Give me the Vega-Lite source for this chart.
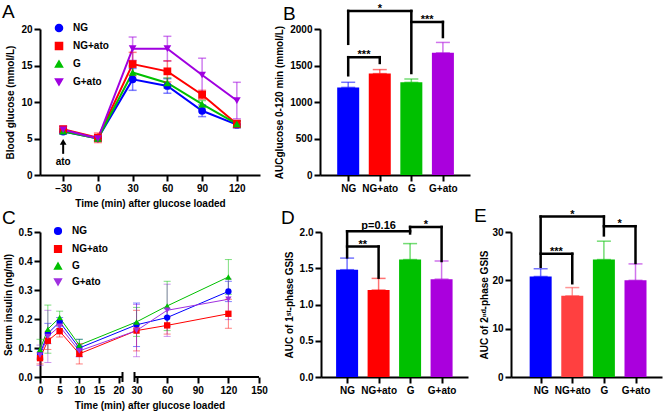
{
  "$schema": "https://vega.github.io/schema/vega-lite/v6.json",
  "background": "white",
  "padding": {"left": 2, "top": 2, "right": 1, "bottom": 2},
  "config": {
    "view": {"stroke": null},
    "font": "Liberation Sans",
    "axis": {"domainColor": "black", "domainWidth": 2, "tickColor": "black", "tickWidth": 2, "tickSize": 6,
      "labelFont": "Liberation Sans", "labelFontSize": 10, "labelFontWeight": "bold", "labelColor": "black",
      "titleFont": "Liberation Sans", "titleFontSize": 10, "titleFontWeight": "bold", "titleColor": "black",
      "grid": false, "labelPadding": 2, "titlePadding": 5, "labelOverlap": false, "labelFlush": false},
    "title": {"font": "Liberation Sans", "fontSize": 19, "fontWeight": "normal", "anchor": "start", "frame": "group", "color": "black", "offset": 4},
    "legend": {"labelFont": "Liberation Sans", "labelFontSize": 10, "labelFontWeight": "bold", "labelColor": "black", "symbolOpacity": 1, "labelOffset": 9}
  },
  "datasets": {
    "glu": [
      {"group": "NG", "t": -30, "mean": 5.95, "sd": 0.3},
      {"group": "NG", "t": 0, "mean": 5.03, "sd": 0.4},
      {"group": "NG", "t": 30, "mean": 13.1, "sd": 1.5},
      {"group": "NG", "t": 60, "mean": 12.2, "sd": 1.0},
      {"group": "NG", "t": 90, "mean": 8.8, "sd": 0.8},
      {"group": "NG", "t": 120, "mean": 6.9, "sd": 0.45},
      {"group": "NG+ato", "t": -30, "mean": 6.27, "sd": 0.4},
      {"group": "NG+ato", "t": 0, "mean": 5.1, "sd": 0.65},
      {"group": "NG+ato", "t": 30, "mean": 15.2, "sd": 1.6},
      {"group": "NG+ato", "t": 60, "mean": 14.2, "sd": 1.45},
      {"group": "NG+ato", "t": 90, "mean": 11.0, "sd": 0.6},
      {"group": "NG+ato", "t": 120, "mean": 7.0, "sd": 0.5},
      {"group": "G", "t": -30, "mean": 6.0, "sd": 0.35},
      {"group": "G", "t": 0, "mean": 5.0, "sd": 0.3},
      {"group": "G", "t": 30, "mean": 14.05, "sd": 0.9},
      {"group": "G", "t": 60, "mean": 12.6, "sd": 0.7},
      {"group": "G", "t": 90, "mean": 9.7, "sd": 0.5},
      {"group": "G", "t": 120, "mean": 7.0, "sd": 0.4},
      {"group": "G+ato", "t": -30, "mean": 6.2, "sd": 0.5},
      {"group": "G+ato", "t": 0, "mean": 5.0, "sd": 0.3},
      {"group": "G+ato", "t": 30, "mean": 17.3, "sd": 1.6},
      {"group": "G+ato", "t": 60, "mean": 17.3, "sd": 1.7},
      {"group": "G+ato", "t": 90, "mean": 13.7, "sd": 2.3},
      {"group": "G+ato", "t": 120, "mean": 10.2, "sd": 2.5}
    ],
    "arrowLine": [{"t": -30, "mean": 2.9, "mean2": 4.3}],
    "arrowHead": [{"t": -30, "mean": 4.55}],
    "arrowText": [{"t": -30, "mean": 1.8, "label": "ato"}],
    "ins": [
      {"group": "NG", "t": 0, "mean": 0.08, "sd": 0.015},
      {"group": "NG", "t": 2, "mean": 0.15, "sd": 0.035},
      {"group": "NG", "t": 5, "mean": 0.19, "sd": 0.015},
      {"group": "NG", "t": 10, "mean": 0.10, "sd": 0.03},
      {"group": "NG", "t": 30, "mean": 0.18, "sd": 0.075},
      {"group": "NG", "t": 60, "mean": 0.205, "sd": 0.03},
      {"group": "NG", "t": 120, "mean": 0.295, "sd": 0.035},
      {"group": "NG+ato", "t": 0, "mean": 0.065, "sd": 0.02},
      {"group": "NG+ato", "t": 2, "mean": 0.125, "sd": 0.03},
      {"group": "NG+ato", "t": 5, "mean": 0.158, "sd": 0.02},
      {"group": "NG+ato", "t": 10, "mean": 0.08, "sd": 0.035},
      {"group": "NG+ato", "t": 30, "mean": 0.16, "sd": 0.07},
      {"group": "NG+ato", "t": 60, "mean": 0.178, "sd": 0.03},
      {"group": "NG+ato", "t": 120, "mean": 0.218, "sd": 0.05},
      {"group": "G", "t": 0, "mean": 0.095, "sd": 0.035},
      {"group": "G", "t": 2, "mean": 0.165, "sd": 0.083},
      {"group": "G", "t": 5, "mean": 0.205, "sd": 0.022},
      {"group": "G", "t": 10, "mean": 0.11, "sd": 0.02},
      {"group": "G", "t": 30, "mean": 0.19, "sd": 0.05},
      {"group": "G", "t": 60, "mean": 0.245, "sd": 0.085},
      {"group": "G", "t": 120, "mean": 0.345, "sd": 0.06},
      {"group": "G+ato", "t": 0, "mean": 0.075, "sd": 0.035},
      {"group": "G+ato", "t": 2, "mean": 0.14, "sd": 0.09},
      {"group": "G+ato", "t": 5, "mean": 0.175, "sd": 0.02},
      {"group": "G+ato", "t": 10, "mean": 0.09, "sd": 0.02},
      {"group": "G+ato", "t": 30, "mean": 0.16, "sd": 0.09},
      {"group": "G+ato", "t": 60, "mean": 0.23, "sd": 0.09},
      {"group": "G+ato", "t": 120, "mean": 0.268, "sd": 0.07}
    ],
    "axisSeg": [{"t": 0, "t2": 21, "mean": 0}, {"t": 28, "t2": 150, "mean": 0}],
    "breaks": [{"t": 21, "mean": 0}, {"t": 28, "mean": 0}],
    "aucg": [
      {"group": "NG", "pos": 0, "mean": 1200, "upper": 1270},
      {"group": "NG+ato", "pos": 1, "mean": 1389, "upper": 1444},
      {"group": "G", "pos": 2, "mean": 1269, "upper": 1315},
      {"group": "G+ato", "pos": 3, "mean": 1673, "upper": 1816}
    ],
    "brB": [
      {"pos": 0, "pos2": 2, "mean": 2248, "mean2": 2248},
      {"pos": 0, "pos2": 0, "mean": 2248, "mean2": 1797},
      {"pos": 2, "pos2": 2, "mean": 2248, "mean2": 1397},
      {"pos": 2, "pos2": 3, "mean": 2097, "mean2": 2097},
      {"pos": 3, "pos2": 3, "mean": 2097, "mean2": 1890},
      {"pos": 0, "pos2": 1, "mean": 1614, "mean2": 1614},
      {"pos": 0, "pos2": 0, "mean": 1614, "mean2": 1366},
      {"pos": 1, "pos2": 1, "mean": 1614, "mean2": 1535}
    ],
    "lbB": [
      {"pos": 1, "mean": 2248, "label": "*"},
      {"pos": 2.5, "mean": 2097, "label": "***"},
      {"pos": 0.5, "mean": 1614, "label": "***"}
    ],
    "auc1": [
      {"group": "NG", "pos": 0, "mean": 1.48, "upper": 1.64},
      {"group": "NG+ato", "pos": 1, "mean": 1.20, "upper": 1.36},
      {"group": "G", "pos": 2, "mean": 1.62, "upper": 1.84},
      {"group": "G+ato", "pos": 3, "mean": 1.35, "upper": 1.60}
    ],
    "brD": [
      {"pos": 0, "pos2": 2, "mean": 2.01, "mean2": 2.01},
      {"pos": 0, "pos2": 0, "mean": 2.01, "mean2": 1.65},
      {"pos": 2, "pos2": 2, "mean": 2.07, "mean2": 1.98},
      {"pos": 2, "pos2": 3, "mean": 2.07, "mean2": 2.07},
      {"pos": 3, "pos2": 3, "mean": 2.07, "mean2": 1.60},
      {"pos": 0, "pos2": 1, "mean": 1.80, "mean2": 1.80},
      {"pos": 1, "pos2": 1, "mean": 1.80, "mean2": 1.37}
    ],
    "lbD": [
      {"pos": 1, "mean": 2.06, "label": "p=0.16"},
      {"pos": 2.5, "mean": 2.07, "label": "*"},
      {"pos": 0.5, "mean": 1.80, "label": "**"}
    ],
    "auc2": [
      {"group": "NG", "pos": 0, "mean": 20.8, "upper": 22.4},
      {"group": "NG+ato", "pos": 1, "mean": 16.8, "upper": 18.5},
      {"group": "G", "pos": 2, "mean": 24.3, "upper": 28.1},
      {"group": "G+ato", "pos": 3, "mean": 20.0, "upper": 23.4}
    ],
    "brE": [
      {"pos": 0, "pos2": 2, "mean": 33.2, "mean2": 33.2},
      {"pos": 0, "pos2": 0, "mean": 33.2, "mean2": 22.8},
      {"pos": 2, "pos2": 2, "mean": 33.2, "mean2": 29.3},
      {"pos": 2, "pos2": 3, "mean": 31.2, "mean2": 31.2},
      {"pos": 3, "pos2": 3, "mean": 31.2, "mean2": 23.6},
      {"pos": 0, "pos2": 1, "mean": 25.5, "mean2": 25.5},
      {"pos": 1, "pos2": 1, "mean": 25.5, "mean2": 19.4}
    ],
    "lbE": [
      {"pos": 1, "mean": 33.2, "label": "*"},
      {"pos": 2.5, "mean": 31.2, "label": "*"},
      {"pos": 0.5, "mean": 25.5, "label": "***"}
    ]
  },
  "resolve": {"scale": {"color": "independent", "shape": "independent"}, "legend": {"color": "independent", "shape": "independent"}},
  "spacing": -2,
  "vconcat": [
    {
      "spacing": 14,
      "resolve": {"scale": {"color": "independent", "shape": "independent"}, "legend": {"color": "independent", "shape": "independent"}},
      "hconcat": [
        {
          "width": 220, "height": 146,
          "title": {"text": "A", "dx": -38, "offset": 1},
          "encoding": {
            "x": {"field": "t", "type": "quantitative", "scale": {"domain": [-50, 140], "nice": false, "zero": false}, "axis": {"values": [-30, 0, 30, 60, 90, 120], "title": "Time (min) after glucose loaded", "labelOverlap": false}},
            "y": {"field": "mean", "type": "quantitative", "scale": {"domain": [0, 20], "nice": false}, "axis": {"values": [0, 5, 10, 15, 20], "title": "Blood glucose (mmol/L)", "labelOverlap": false}}
          },
          "layer": [
            {
              "data": {"name": "glu"},
              "mark": {"type": "line", "strokeWidth": 2},
              "encoding": {
                "color": {"field": "group", "type": "nominal", "scale": {"domain": ["NG", "NG+ato", "G", "G+ato"], "range": ["#0000FF", "#FF0000", "#00C000", "#A000E0"]}, "legend": {"title": null, "orient": "none", "legendX": 14, "legendY": -6, "rowPadding": 4, "symbolSize": 50}}
              }
            },
            {
              "data": {"name": "glu"},
              "mark": {"type": "errorbar", "ticks": {"size": 8, "thickness": 1.5, "opacity": 0.5}, "rule": {"strokeWidth": 1.5, "opacity": 0.5}},
              "encoding": {
                "yError": {"field": "sd"},
                "color": {"field": "group", "type": "nominal"}
              }
            },
            {
              "data": {"name": "glu"},
              "mark": {"type": "point", "filled": true, "size": 60, "opacity": 1},
              "encoding": {
                "color": {"field": "group", "type": "nominal", "legend": {"title": null, "orient": "none", "legendX": 14, "legendY": -6, "rowPadding": 4, "symbolSize": 50}},
                "shape": {"field": "group", "type": "nominal", "scale": {"domain": ["NG", "NG+ato", "G", "G+ato"], "range": ["circle", "square", "triangle-up", "triangle-down"]}, "legend": {"title": null, "orient": "none", "legendX": 14, "legendY": -6, "rowPadding": 4, "symbolSize": 50}}
              }
            },
            {
              "data": {"name": "arrowLine"},
              "mark": {"type": "rule", "strokeWidth": 2, "color": "black"},
              "encoding": {"y2": {"field": "mean2"}}
            },
            {
              "data": {"name": "arrowHead"},
              "mark": {"type": "point", "shape": "triangle-up", "filled": true, "color": "black", "size": 45, "opacity": 1},
              "encoding": {}
            },
            {
              "data": {"name": "arrowText"},
              "mark": {"type": "text", "fontSize": 10, "fontWeight": "bold", "color": "black", "baseline": "middle"},
              "encoding": {"text": {"field": "label"}}
            }
          ]
        },
        {
          "width": 150, "height": 146,
          "title": {"text": "B", "dx": -37, "offset": -21},
          "encoding": {
            "x": {"field": "pos", "type": "quantitative", "scale": {"domain": [-0.735, 3.7], "nice": false, "zero": false}, "axis": {"values": [0, 1, 2, 3], "labelExpr": "['NG','NG+ato','G','G+ato'][datum.value]", "title": null, "labelOverlap": false}},
            "y": {"field": "mean", "type": "quantitative", "scale": {"domain": [0, 2000], "nice": false}, "axis": {"values": [0, 500, 1000, 1500, 2000], "format": "d", "title": "AUCglucose 0-120 min (mmol/L)", "labelOverlap": false}}
          },
          "layer": [
            {
              "data": {"name": "aucg"},
              "mark": {"type": "bar", "width": 22},
              "encoding": {
                "color": {"field": "group", "type": "nominal", "scale": {"domain": ["NG", "NG+ato", "G", "G+ato"], "range": ["#0000FF", "#FF0000", "#00C000", "#AA00DD"]}, "legend": null}
              }
            },
            {
              "data": {"name": "aucg"},
              "mark": {"type": "errorbar", "ticks": {"size": 14, "thickness": 1.5, "opacity": 0.55}, "rule": {"strokeWidth": 1.5, "opacity": 0.55}},
              "encoding": {
                "y2": {"field": "upper"},
                "color": {"field": "group", "type": "nominal", "legend": null}
              }
            },
            {
              "data": {"name": "brB"},
              "mark": {"type": "rule", "strokeWidth": 2.5, "color": "black", "strokeCap": "square"},
              "encoding": {"x2": {"field": "pos2"}, "y2": {"field": "mean2"}}
            },
            {
              "data": {"name": "lbB"},
              "mark": {"type": "text", "fontSize": 11, "fontWeight": "bold", "color": "black", "baseline": "alphabetic", "dy": 1},
              "encoding": {"text": {"field": "label"}}
            }
          ]
        }
      ]
    },
    {
      "spacing": 6,
      "resolve": {"scale": {"color": "independent", "shape": "independent"}, "legend": {"color": "independent", "shape": "independent"}},
      "hconcat": [
        {
          "width": 235, "height": 145,
          "title": {"text": "C", "dx": -38, "offset": -2},
          "encoding": {
            "x": {"field": "t", "type": "quantitative", "scale": {"domain": [0, 21, 28, 150], "range": [0, 82.5, 94.5, 219], "nice": false, "zero": false}, "axis": {"values": [0, 5, 10, 15, 20, 30, 60, 90, 120, 150], "domain": false, "title": "Time (min) after glucose loaded", "labelOverlap": false}},
            "y": {"field": "mean", "type": "quantitative", "scale": {"domain": [0, 0.5], "nice": false}, "axis": {"values": [0, 0.1, 0.2, 0.3, 0.4, 0.5], "format": ".1f", "title": "Serum insulin (ng/ml)", "labelOverlap": false}}
          },
          "layer": [
            {
              "data": {"name": "ins"},
              "mark": {"type": "line", "strokeWidth": 1},
              "encoding": {
                "color": {"field": "group", "type": "nominal", "scale": {"domain": ["NG", "NG+ato", "G", "G+ato"], "range": ["#0000FF", "#FF0000", "#00C000", "#A030E0"]}, "legend": {"title": null, "orient": "none", "legendX": 13, "legendY": -6, "rowPadding": 4, "symbolSize": 45}}
              }
            },
            {
              "data": {"name": "ins"},
              "mark": {"type": "errorbar", "ticks": {"size": 7, "thickness": 1, "opacity": 0.5}, "rule": {"strokeWidth": 1, "opacity": 0.5}},
              "encoding": {
                "yError": {"field": "sd"},
                "color": {"field": "group", "type": "nominal"}
              }
            },
            {
              "data": {"name": "ins"},
              "mark": {"type": "point", "filled": true, "size": 40, "opacity": 1},
              "encoding": {
                "color": {"field": "group", "type": "nominal", "legend": {"title": null, "orient": "none", "legendX": 13, "legendY": -6, "rowPadding": 4, "symbolSize": 45}},
                "shape": {"field": "group", "type": "nominal", "scale": {"domain": ["NG", "NG+ato", "G", "G+ato"], "range": ["circle", "square", "triangle-up", "triangle-down"]}, "legend": {"title": null, "orient": "none", "legendX": 13, "legendY": -6, "rowPadding": 4, "symbolSize": 45}}
              }
            },
            {
              "data": {"name": "axisSeg"},
              "mark": {"type": "rule", "strokeWidth": 2, "color": "black"},
              "encoding": {"x2": {"field": "t2"}}
            },
            {
              "data": {"name": "breaks"},
              "mark": {"type": "tick", "orient": "vertical", "size": 10, "thickness": 2, "color": "black", "opacity": 1},
              "encoding": {}
            }
          ]
        },
        {
          "width": 147, "height": 145,
          "title": {"text": "D", "dx": -40, "offset": -9},
          "encoding": {
            "x": {"field": "pos", "type": "quantitative", "scale": {"domain": [-0.67, 3.68], "nice": false, "zero": false}, "axis": {"values": [0, 1, 2, 3], "labelExpr": "['NG','NG+ato','G','G+ato'][datum.value]", "title": null, "labelOverlap": false}},
            "y": {"field": "mean", "type": "quantitative", "scale": {"domain": [0, 2], "nice": false}, "axis": {"values": [0, 0.5, 1, 1.5, 2], "format": ".1f", "title": "AUC of 1ˢᵗ-phase GSIS", "labelOverlap": false}}
          },
          "layer": [
            {
              "data": {"name": "auc1"},
              "mark": {"type": "bar", "width": 22},
              "encoding": {
                "color": {"field": "group", "type": "nominal", "scale": {"domain": ["NG", "NG+ato", "G", "G+ato"], "range": ["#0000FF", "#FF0000", "#00C000", "#AA00DD"]}, "legend": null}
              }
            },
            {
              "data": {"name": "auc1"},
              "mark": {"type": "errorbar", "ticks": {"size": 14, "thickness": 1.5, "opacity": 0.55}, "rule": {"strokeWidth": 1.5, "opacity": 0.55}},
              "encoding": {
                "y2": {"field": "upper"},
                "color": {"field": "group", "type": "nominal", "legend": null}
              }
            },
            {
              "data": {"name": "brD"},
              "mark": {"type": "rule", "strokeWidth": 2.5, "color": "black", "strokeCap": "square"},
              "encoding": {"x2": {"field": "pos2"}, "y2": {"field": "mean2"}}
            },
            {
              "data": {"name": "lbD"},
              "mark": {"type": "text", "fontSize": 11, "fontWeight": "bold", "color": "black", "baseline": "alphabetic", "dy": 1},
              "encoding": {"text": {"field": "label"}}
            }
          ]
        },
        {
          "width": 151, "height": 145,
          "title": {"text": "E", "dx": -37, "offset": -17},
          "encoding": {
            "x": {"field": "pos", "type": "quantitative", "scale": {"domain": [-0.78, 3.68], "nice": false, "zero": false}, "axis": {"values": [0, 1, 2, 3], "labelExpr": "['NG','NG+ato','G','G+ato'][datum.value]", "title": null, "labelOverlap": false}},
            "y": {"field": "mean", "type": "quantitative", "scale": {"domain": [0, 30], "nice": false}, "axis": {"values": [0, 10, 20, 30], "title": "AUC of 2ⁿᵈ-phase GSIS", "titlePadding": 2, "labelOverlap": false}}
          },
          "layer": [
            {
              "data": {"name": "auc2"},
              "mark": {"type": "bar", "width": 22},
              "encoding": {
                "color": {"field": "group", "type": "nominal", "scale": {"domain": ["NG", "NG+ato", "G", "G+ato"], "range": ["#0000FF", "#FF4040", "#00C000", "#AA00DD"]}, "legend": null}
              }
            },
            {
              "data": {"name": "auc2"},
              "mark": {"type": "errorbar", "ticks": {"size": 14, "thickness": 1.5, "opacity": 0.55}, "rule": {"strokeWidth": 1.5, "opacity": 0.55}},
              "encoding": {
                "y2": {"field": "upper"},
                "color": {"field": "group", "type": "nominal", "legend": null}
              }
            },
            {
              "data": {"name": "brE"},
              "mark": {"type": "rule", "strokeWidth": 2.5, "color": "black", "strokeCap": "square"},
              "encoding": {"x2": {"field": "pos2"}, "y2": {"field": "mean2"}}
            },
            {
              "data": {"name": "lbE"},
              "mark": {"type": "text", "fontSize": 11, "fontWeight": "bold", "color": "black", "baseline": "alphabetic", "dy": 1},
              "encoding": {"text": {"field": "label"}}
            }
          ]
        }
      ]
    }
  ]
}
